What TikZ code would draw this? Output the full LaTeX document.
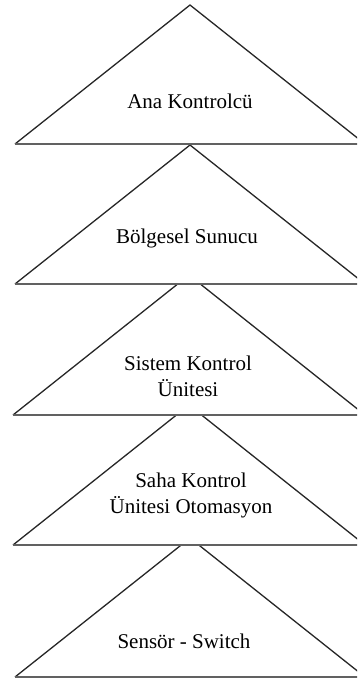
\documentclass[tikz,border=0pt]{standalone}
\usepackage{fontspec}
\setmainfont{Liberation Serif}
\begin{document}
\begin{tikzpicture}[x=1pt,y=-1pt,
  side/.style={line width=1.3pt, black!85, line join=miter},
  baseline rule/.style={line width=2pt, black!62},
  layer label/.style={align=center, anchor=base, inner sep=0pt,
    font=\fontsize{21}{26}\selectfont, text=black}]
\useasboundingbox (0,0) rectangle (357,681);
\clip (0,0) rectangle (357,681);
% hierarchy layers, lowest first so each upper layer hides the tip below it
% apex y / base y / left x / centre x
\foreach \ap/\bs/\l/\c in {538/677/15/190, 405/545/13/189, 275/415/13/189,
                           145/284/15/190, 5/144/15/190} {
  \fill[white] (\l,\bs) -- (\c,\ap) -- ({2*\c-\l},\bs) -- cycle;
  \draw[side] (\l,\bs) -- (\c,\ap) -- ({2*\c-\l},\bs);
  \draw[baseline rule] (\l,\bs) -- ({2*\c-\l},\bs);
}
% layer names (multi-line labels are anchored on their last line)
\node[layer label] (ana)    at (190,108) {Ana Kontrolcü};
\node[layer label] (bolge)  at (187,243) {Bölgesel Sunucu};
\node[layer label] (sistem) at (188,396) {Sistem Kontrol\\Ünitesi};
\node[layer label] (saha)   at (191,513) {Saha Kontrol\\Ünitesi Otomasyon};
\node[layer label] (sensor) at (184,648) {Sensör - Switch};
\end{tikzpicture}
\end{document}
